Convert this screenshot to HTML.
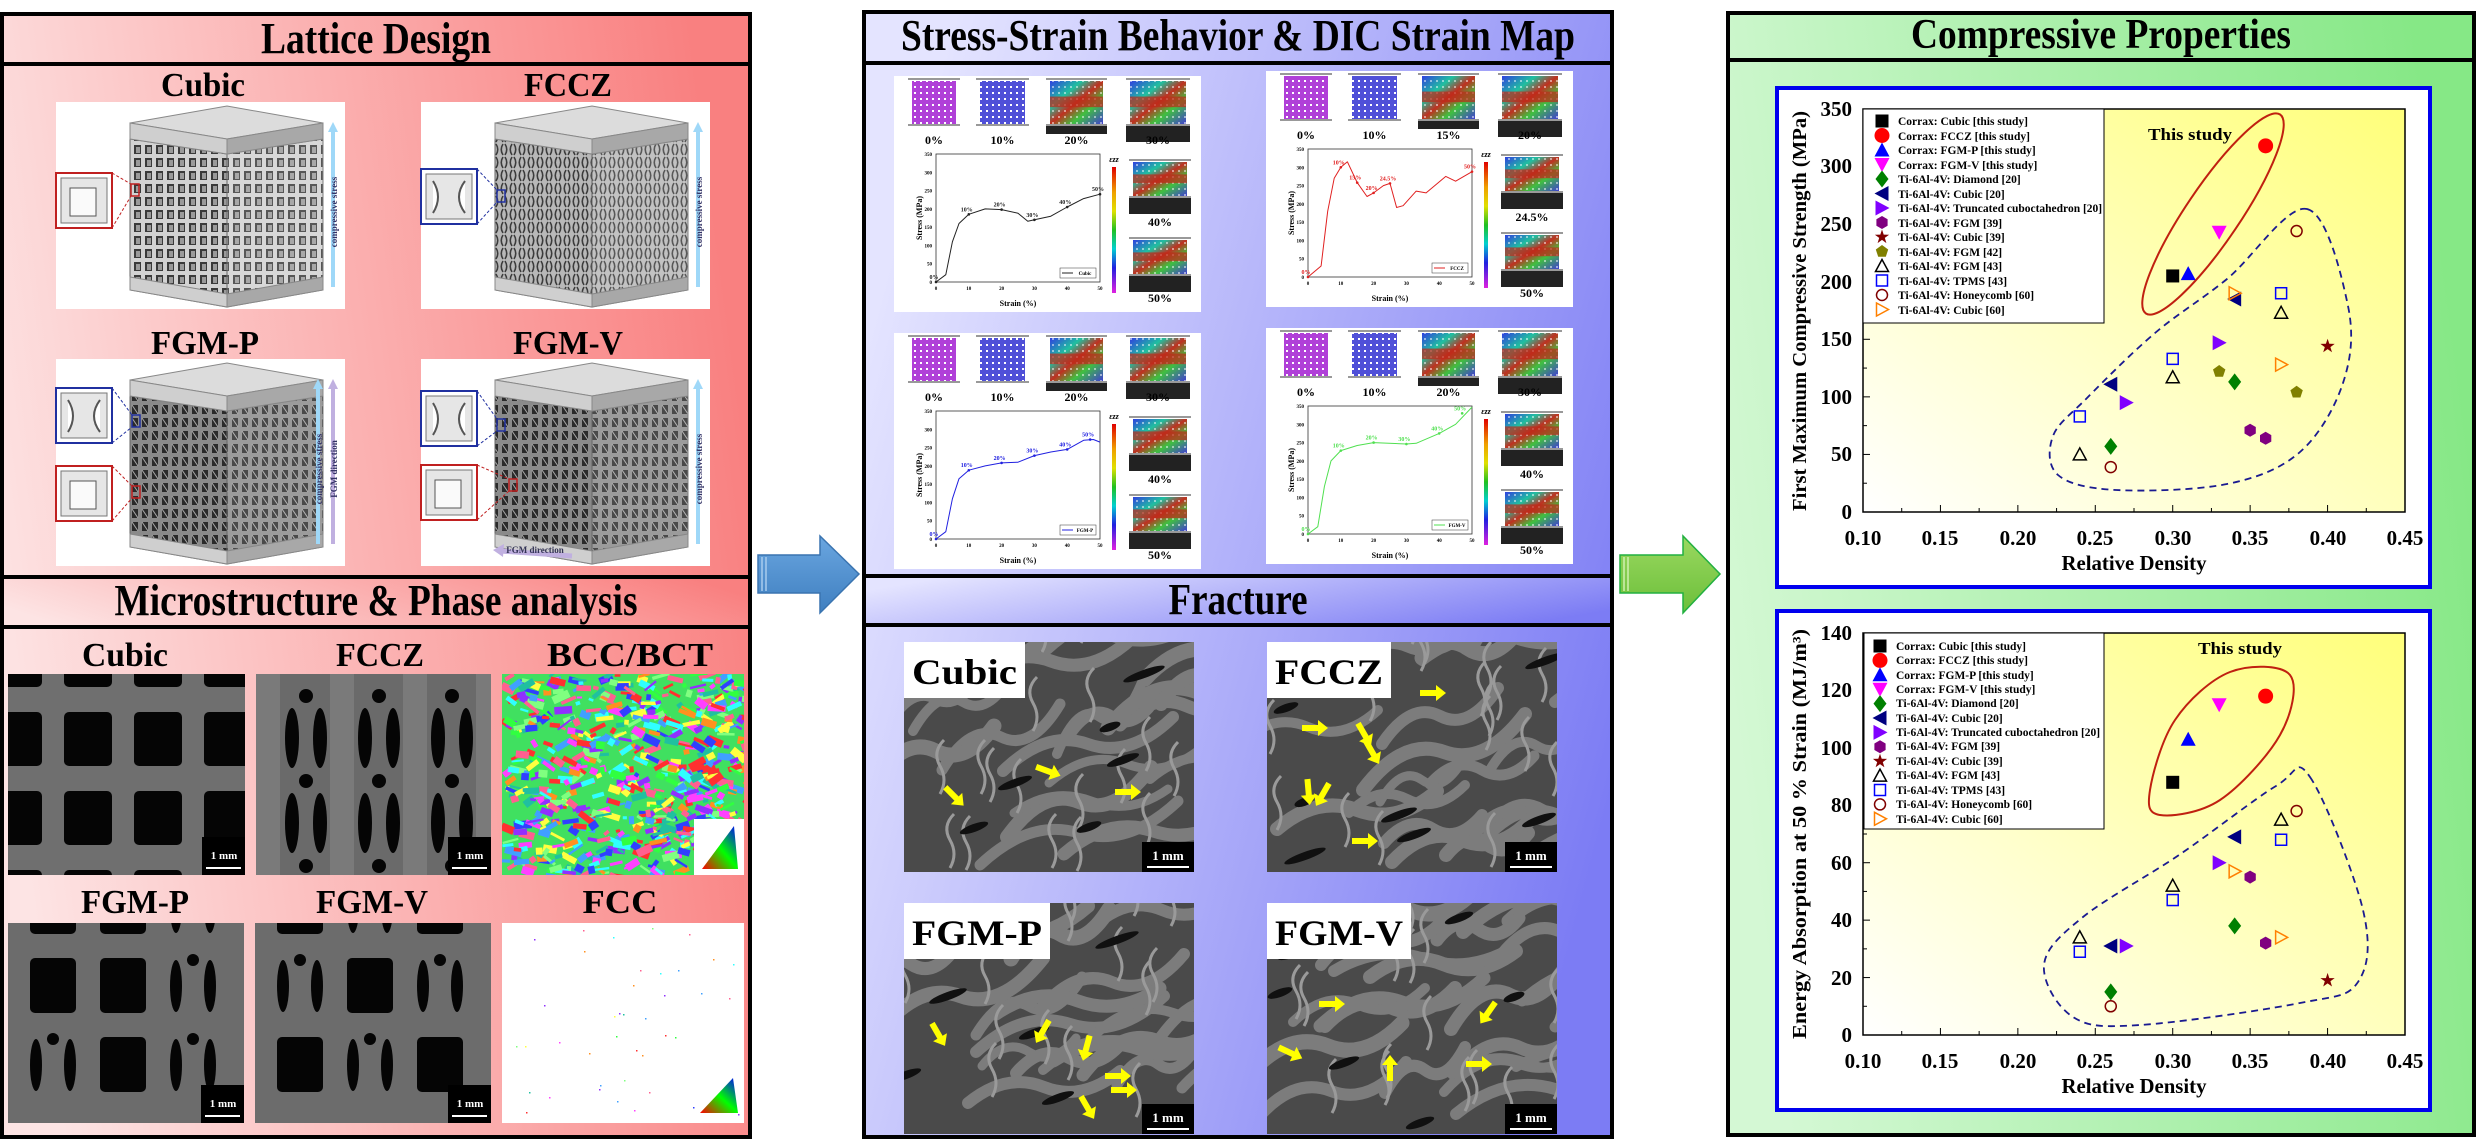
<!DOCTYPE html>
<html><head><meta charset="utf-8"><style>
html,body{margin:0;padding:0;background:#fff}
body{width:2478px;height:1140px;overflow:hidden}
svg{display:block}
svg text{font-family:"Liberation Serif",serif;font-weight:bold}
</style></head><body>
<svg id="s" width="2478" height="1140" xmlns="http://www.w3.org/2000/svg" font-family="'Liberation Serif', serif">
<defs>
<linearGradient id="gL" x1="0" y1="0.6" x2="1" y2="0.4"><stop offset="0" stop-color="#fde4e4"/><stop offset="1" stop-color="#f98080"/></linearGradient>
<linearGradient id="gM" x1="0" y1="0.3" x2="1" y2="0.7"><stop offset="0" stop-color="#e4e4ff"/><stop offset="1" stop-color="#7c7cf4"/></linearGradient>
<linearGradient id="gR" x1="0" y1="0.6" x2="1" y2="0.4"><stop offset="0" stop-color="#d4f8d4"/><stop offset="1" stop-color="#86e886"/></linearGradient>
<linearGradient id="gY" x1="0" y1="1" x2="1" y2="0"><stop offset="0" stop-color="#ffffff"/><stop offset="1" stop-color="#ffff7a"/></linearGradient>
<linearGradient id="gCB" x1="0" y1="0" x2="0" y2="1"><stop offset="0" stop-color="#e00000"/><stop offset="0.2" stop-color="#f0a000"/><stop offset="0.35" stop-color="#e0e000"/><stop offset="0.5" stop-color="#20c020"/><stop offset="0.65" stop-color="#00d0d0"/><stop offset="0.8" stop-color="#2020e0"/><stop offset="1" stop-color="#e020e0"/></linearGradient>
<linearGradient id="gDIC" x1="0" y1="0" x2="1" y2="1"><stop offset="0" stop-color="#3040e0"/><stop offset="0.3" stop-color="#20c0a0"/><stop offset="0.5" stop-color="#c03020"/><stop offset="0.7" stop-color="#40c040"/><stop offset="1" stop-color="#4040d0"/></linearGradient>
<linearGradient id="gBA" x1="0" y1="0" x2="0" y2="1"><stop offset="0" stop-color="#6aa6e0"/><stop offset="1" stop-color="#3f7fc0"/></linearGradient>
<linearGradient id="gGA" x1="0" y1="0" x2="0" y2="1"><stop offset="0" stop-color="#9ad860"/><stop offset="1" stop-color="#6cbf3a"/></linearGradient>
<linearGradient id="gTri" x1="0" y1="1" x2="1" y2="0"><stop offset="0" stop-color="#ff0000"/><stop offset="0.5" stop-color="#00ff00"/><stop offset="1" stop-color="#0000ff"/></linearGradient>
<pattern id="pC" width="11" height="13" patternUnits="userSpaceOnUse"><rect width="11" height="13" fill="#d2d2d2"/><rect x="2" y="2" width="7" height="9" fill="#3a3a3a"/><rect x="4" y="4" width="4" height="6" fill="#9a9a9a"/></pattern>
<pattern id="pF" width="9" height="13" patternUnits="userSpaceOnUse"><rect width="9" height="13" fill="#b8b8b8"/><path d="M1 1 Q4.5 6.5 1 12 M8 1 Q4.5 6.5 8 12" stroke="#3c3c3c" stroke-width="1.6" fill="none"/></pattern>
<pattern id="pG" width="10" height="13" patternUnits="userSpaceOnUse"><rect width="10" height="13" fill="#8a8a8a"/><rect x="2" y="2" width="6" height="9" fill="#2a2a2a"/><path d="M2 2 L8 11" stroke="#aaa" stroke-width="1"/></pattern>
<pattern id="pD" width="6" height="6" patternUnits="userSpaceOnUse"><rect width="6" height="6" fill="none"/><rect x="2" y="2" width="2" height="2" fill="#fff"/></pattern>
</defs>

<!-- LEFT PANEL -->
<rect x="2" y="14" width="748" height="1123" fill="url(#gL)" stroke="#000" stroke-width="4"/>
<line x1="2" y1="64" x2="750" y2="64" stroke="#000" stroke-width="4"/>
<rect x="2" y="577" width="748" height="50" fill="url(#gL)" stroke="#000" stroke-width="4"/>
<text x="376" y="53" font-size="44" text-anchor="middle" textLength="230" lengthAdjust="spacingAndGlyphs">Lattice Design</text>
<text x="203" y="96" font-size="34" text-anchor="middle" textLength="84" lengthAdjust="spacingAndGlyphs">Cubic</text>
<text x="568" y="96" font-size="34" text-anchor="middle" textLength="88" lengthAdjust="spacingAndGlyphs">FCCZ</text>
<text x="205" y="354" font-size="34" text-anchor="middle" textLength="108" lengthAdjust="spacingAndGlyphs">FGM-P</text>
<text x="568" y="354" font-size="34" text-anchor="middle" textLength="110" lengthAdjust="spacingAndGlyphs">FGM-V</text>
<g id="lat"></g>
<text x="376" y="615" font-size="44" text-anchor="middle" textLength="523" lengthAdjust="spacingAndGlyphs">Microstructure &amp; Phase analysis</text>
<text x="125" y="666" font-size="34" text-anchor="middle" textLength="86" lengthAdjust="spacingAndGlyphs">Cubic</text>
<text x="380" y="666" font-size="34" text-anchor="middle" textLength="88" lengthAdjust="spacingAndGlyphs">FCCZ</text>
<text x="630" y="666" font-size="34" text-anchor="middle" textLength="166" lengthAdjust="spacingAndGlyphs">BCC/BCT</text>
<text x="135" y="913" font-size="34" text-anchor="middle" textLength="108" lengthAdjust="spacingAndGlyphs">FGM-P</text>
<text x="372" y="913" font-size="34" text-anchor="middle" textLength="112" lengthAdjust="spacingAndGlyphs">FGM-V</text>
<text x="620" y="913" font-size="34" text-anchor="middle" textLength="75" lengthAdjust="spacingAndGlyphs">FCC</text>
<g id="mic"></g>

<!-- ARROWS -->
<path d="M758 555 H820 V536 L859 574 L820 613 V593 H758 Z" fill="url(#gBA)" stroke="#3a74b0" stroke-width="1.5"/>
<path d="M762 557 V591 M766 557 V591" stroke="#a8ccee" stroke-width="1.5"/>
<path d="M1620 555 H1683 V536 L1720 574 L1683 613 V593 H1620 Z" fill="url(#gGA)" stroke="#22b040" stroke-width="1.5"/>
<path d="M1624 557 V591 M1628 557 V591" stroke="#d0f0b0" stroke-width="1.5"/>

<!-- MIDDLE PANEL -->
<rect x="864" y="12" width="748" height="1125" fill="url(#gM)" stroke="#000" stroke-width="4"/>
<line x1="864" y1="63" x2="1612" y2="63" stroke="#000" stroke-width="4"/>
<rect x="864" y="576" width="748" height="49" fill="url(#gM)" stroke="#000" stroke-width="4"/>
<text x="1238" y="50" font-size="44" text-anchor="middle" textLength="674" lengthAdjust="spacingAndGlyphs">Stress-Strain Behavior &amp; DIC Strain Map</text>
<text x="1238" y="614" font-size="44" text-anchor="middle" textLength="139" lengthAdjust="spacingAndGlyphs">Fracture</text>
<g id="ss"></g>
<g id="fr"></g>

<!-- RIGHT PANEL -->
<rect x="1728" y="13" width="746" height="1122" fill="url(#gR)" stroke="#000" stroke-width="4"/>
<line x1="1728" y1="60" x2="2474" y2="60" stroke="#000" stroke-width="4"/>
<text x="2101" y="48" font-size="42" text-anchor="middle" textLength="380" lengthAdjust="spacingAndGlyphs">Compressive Properties</text>

<rect x="1777" y="88" width="653" height="499" fill="#fff" stroke="#0000ee" stroke-width="4"/>
<rect x="1863" y="109" width="542" height="403" fill="url(#gY)" stroke="#000" stroke-width="1.5"/>
<rect x="1777" y="611" width="653" height="499" fill="#fff" stroke="#0000ee" stroke-width="4"/>
<rect x="1863" y="633" width="542" height="402" fill="url(#gY)" stroke="#000" stroke-width="1.5"/>
<g id="ax"></g>
<g font-size="21">
<text x="1863" y="545" text-anchor="middle">0.10</text><text x="1940" y="545" text-anchor="middle">0.15</text><text x="2018" y="545" text-anchor="middle">0.20</text><text x="2095" y="545" text-anchor="middle">0.25</text><text x="2173" y="545" text-anchor="middle">0.30</text><text x="2250" y="545" text-anchor="middle">0.35</text><text x="2328" y="545" text-anchor="middle">0.40</text><text x="2405" y="545" text-anchor="middle">0.45</text>
<text x="1863" y="1068" text-anchor="middle">0.10</text><text x="1940" y="1068" text-anchor="middle">0.15</text><text x="2018" y="1068" text-anchor="middle">0.20</text><text x="2095" y="1068" text-anchor="middle">0.25</text><text x="2173" y="1068" text-anchor="middle">0.30</text><text x="2250" y="1068" text-anchor="middle">0.35</text><text x="2328" y="1068" text-anchor="middle">0.40</text><text x="2405" y="1068" text-anchor="middle">0.45</text>
<text x="1852" y="519" text-anchor="end">0</text><text x="1852" y="461" text-anchor="end">50</text><text x="1852" y="404" text-anchor="end">100</text><text x="1852" y="346" text-anchor="end">150</text><text x="1852" y="289" text-anchor="end">200</text><text x="1852" y="231" text-anchor="end">250</text><text x="1852" y="173" text-anchor="end">300</text><text x="1852" y="116" text-anchor="end">350</text>
<text x="1852" y="1042" text-anchor="end">0</text><text x="1852" y="985" text-anchor="end">20</text><text x="1852" y="927" text-anchor="end">40</text><text x="1852" y="870" text-anchor="end">60</text><text x="1852" y="812" text-anchor="end">80</text><text x="1852" y="755" text-anchor="end">100</text><text x="1852" y="697" text-anchor="end">120</text><text x="1852" y="640" text-anchor="end">140</text>
</g>
<text x="2134" y="570" font-size="21" text-anchor="middle" textLength="145" lengthAdjust="spacingAndGlyphs">Relative Density</text>
<text x="2134" y="1093" font-size="21" text-anchor="middle" textLength="145" lengthAdjust="spacingAndGlyphs">Relative Density</text>
<text transform="translate(1806,311) rotate(-90)" font-size="20" text-anchor="middle" textLength="400" lengthAdjust="spacingAndGlyphs">First Maximum Compressive Strength (MPa)</text>
<text transform="translate(1806,834) rotate(-90)" font-size="20" text-anchor="middle" textLength="410" lengthAdjust="spacingAndGlyphs">Energy Absorption at 50 % Strain (MJ/m³)</text>
<text x="2190" y="140" font-size="17" text-anchor="middle" textLength="84" lengthAdjust="spacingAndGlyphs">This study</text>
<text x="2240" y="654" font-size="17" text-anchor="middle" textLength="84" lengthAdjust="spacingAndGlyphs">This study</text>
<rect x="1863" y="109" width="241" height="214" fill="#fff" stroke="#000" stroke-width="1"/>
<rect x="1864" y="633" width="240" height="196" fill="#fff" stroke="#000" stroke-width="1"/>
<g id="leg1" font-size="11.5">
<text x="1898" y="125">Corrax: Cubic [this study]</text>
<text x="1898" y="140">Corrax: FCCZ [this study]</text>
<text x="1898" y="154">Corrax: FGM-P [this study]</text>
<text x="1898" y="169">Corrax: FGM-V [this study]</text>
<text x="1898" y="183">Ti-6Al-4V: Diamond [20]</text>
<text x="1898" y="198">Ti-6Al-4V: Cubic [20]</text>
<text x="1898" y="212">Ti-6Al-4V: Truncated cuboctahedron [20]</text>
<text x="1898" y="227">Ti-6Al-4V: FGM [39]</text>
<text x="1898" y="241">Ti-6Al-4V: Cubic [39]</text>
<text x="1898" y="256">Ti-6Al-4V: FGM [42]</text>
<text x="1898" y="270">Ti-6Al-4V: FGM [43]</text>
<text x="1898" y="285">Ti-6Al-4V: TPMS [43]</text>
<text x="1898" y="299">Ti-6Al-4V: Honeycomb [60]</text>
<text x="1898" y="314">Ti-6Al-4V: Cubic [60]</text>
</g>
<g id="leg2" font-size="11.5">
<text x="1896" y="650">Corrax: Cubic [this study]</text>
<text x="1896" y="664">Corrax: FCCZ [this study]</text>
<text x="1896" y="679">Corrax: FGM-P [this study]</text>
<text x="1896" y="693">Corrax: FGM-V [this study]</text>
<text x="1896" y="707">Ti-6Al-4V: Diamond [20]</text>
<text x="1896" y="722">Ti-6Al-4V: Cubic [20]</text>
<text x="1896" y="736">Ti-6Al-4V: Truncated cuboctahedron [20]</text>
<text x="1896" y="750">Ti-6Al-4V: FGM [39]</text>
<text x="1896" y="765">Ti-6Al-4V: Cubic [39]</text>
<text x="1896" y="779">Ti-6Al-4V: FGM [43]</text>
<text x="1896" y="794">Ti-6Al-4V: TPMS [43]</text>
<text x="1896" y="808">Ti-6Al-4V: Honeycomb [60]</text>
<text x="1896" y="823">Ti-6Al-4V: Cubic [60]</text>
</g>
<g id="mk"></g>
</svg>

<script>
(function(){
function add(id,html){document.getElementById(id).insertAdjacentHTML('beforeend',html);}
var seed=7;function R(){seed=(seed*16807)%2147483647;return (seed-1)/2147483646;}

function cube(bx,by,pat,inserts,arrows){
 var s='<rect x="'+bx+'" y="'+by+'" width="289" height="207" fill="#fff"/>';
 var P=function(a){return a.map(function(p){return (bx+p[0])+','+(by+p[1]);}).join(' ');};
 s+='<polygon points="'+P([[74,37],[171,52],[171,205],[74,188]])+'" fill="url(#'+pat+')" stroke="#666"/>';
 s+='<polygon points="'+P([[171,52],[267,37],[267,188],[171,205]])+'" fill="url(#'+pat+')" stroke="#666" opacity="0.85"/>';
 s+='<polygon points="'+P([[74,21],[171,4],[267,21],[171,37]])+'" fill="#dcdcdc" stroke="#888"/>';
 s+='<polygon points="'+P([[74,21],[171,37],[171,52],[74,37]])+'" fill="#cfcfcf" stroke="#888"/>';
 s+='<polygon points="'+P([[171,37],[267,21],[267,37],[171,52]])+'" fill="#a8a8a8" stroke="#888"/>';
 s+='<polygon points="'+P([[74,175],[171,192],[171,205],[74,188]])+'" fill="#cfcfcf" stroke="#888"/>';
 s+='<polygon points="'+P([[171,192],[267,175],[267,188],[171,205]])+'" fill="#a8a8a8" stroke="#888"/>';
 inserts.forEach(function(it){
  var x=bx+it[0],y=by+it[1],c=it[2];
  s+='<rect x="'+x+'" y="'+y+'" width="56" height="55" fill="#fff" stroke="'+c+'" stroke-width="2"/>';
  s+='<rect x="'+(x+5)+'" y="'+(y+5)+'" width="46" height="45" fill="#e6e6e6" stroke="#777"/>';
  if(c=='#c02020') s+='<rect x="'+(x+14)+'" y="'+(y+15)+'" width="26" height="28" fill="#fafafa" stroke="#555"/>';
  else s+='<path d="M'+(x+12)+' '+(y+12)+' Q'+(x+22)+' '+(y+28)+' '+(x+12)+' '+(y+44)+' M'+(x+44)+' '+(y+12)+' Q'+(x+32)+' '+(y+28)+' '+(x+44)+' '+(y+44)+'" stroke="#555" stroke-width="2" fill="#fff"/>';
  s+='<line x1="'+(x+56)+'" y1="'+y+'" x2="'+(bx+it[3])+'" y2="'+(by+it[4])+'" stroke="'+c+'" stroke-dasharray="3,2"/>';
  s+='<line x1="'+(x+56)+'" y1="'+(y+55)+'" x2="'+(bx+it[3])+'" y2="'+(by+it[4]+12)+'" stroke="'+c+'" stroke-dasharray="3,2"/>';
  s+='<rect x="'+(bx+it[3])+'" y="'+(by+it[4])+'" width="8" height="12" fill="none" stroke="'+c+'" stroke-width="1.5"/>';
 });
 arrows.forEach(function(a){
  s+='<line x1="'+(bx+a[0])+'" y1="'+(by+185)+'" x2="'+(bx+a[0])+'" y2="'+(by+28)+'" stroke="'+a[1]+'" stroke-width="4"/>';
  s+='<polygon points="'+(bx+a[0]-5)+','+(by+30)+' '+(bx+a[0]+5)+','+(by+30)+' '+(bx+a[0])+','+(by+20)+'" fill="'+a[1]+'"/>';
  s+='<text transform="translate('+(bx+a[0]+4)+','+(by+110)+') rotate(-90)" font-size="9" font-weight="normal" fill="#336" text-anchor="middle">'+a[2]+'</text>';
 });
 return s;
}
var L='';
L+=cube(56,102,'pC',[[0,71,'#c02020',75,82]],[[277,'#9fd8f8','compressive stress']]);
L+=cube(421,102,'pF',[[0,67,'#2030a0',76,88]],[[277,'#9fd8f8','compressive stress']]);
L+=cube(56,359,'pG',[[0,29,'#2030a0',76,56],[0,107,'#c02020',76,127]],[[262,'#9fd8f8','compressive stress'],[277,'#c0b0e0','FGM direction']]);
L+=cube(421,359,'pG',[[0,32,'#2030a0',76,60],[0,106,'#c02020',88,120]],[[277,'#9fd8f8','compressive stress']]);
L+='<line x1="500" y1="551" x2="572" y2="556" stroke="#c0b0e0" stroke-width="5"/><polygon points="493,550 504,544 503,557" fill="#c0b0e0"/><text x="535" y="553" font-size="9" font-weight="normal" text-anchor="middle" fill="#335">FGM direction</text>';
add('lat',L);

function sbar(x,y){return '<rect x="'+(x-43)+'" y="'+(y-38)+'" width="43" height="38" fill="#000"/><text x="'+(x-21)+'" y="'+(y-16)+'" font-size="11" font-weight="normal" fill="#fff" text-anchor="middle">1 mm</text><line x1="'+(x-39)+'" y1="'+(y-7)+'" x2="'+(x-4)+'" y2="'+(y-7)+'" stroke="#fff" stroke-width="2"/>';}
function clip(id,x,y,w,h){return '<clipPath id="'+id+'"><rect x="'+x+'" y="'+y+'" width="'+w+'" height="'+h+'"/></clipPath>';}
var M='';
M+=clip('c1',8,674,237,201)+'<g clip-path="url(#c1)"><rect x="8" y="674" width="237" height="201" fill="#6f6f6f"/>';
for(var i=0;i<4;i++)for(var j=-1;j<3;j++){M+='<rect x="'+(-6+i*70)+'" y="'+(712+j*79)+'" width="48" height="54" rx="5" fill="#050505"/>';}
M+='</g>'+sbar(245,875);
M+=clip('c2',256,674,235,201)+'<g clip-path="url(#c2)"><rect x="256" y="674" width="235" height="201" fill="#6a6a6a"/>';
for(var i=0;i<3;i++){var cx=306+i*73;for(var j=0;j<3;j++){var cy=738+j*85;
 M+='<ellipse cx="'+(cx-14)+'" cy="'+cy+'" rx="7" ry="30" fill="#050505"/><ellipse cx="'+(cx+14)+'" cy="'+cy+'" rx="7" ry="30" fill="#050505"/><circle cx="'+cx+'" cy="'+(cy-42)+'" r="7" fill="#050505"/>';}
 M+='<rect x="'+(cx+24)+'" y="674" width="24" height="201" fill="#7a7a7a"/>';}
M+='<rect x="256" y="674" width="24" height="201" fill="#7a7a7a"/></g>'+sbar(491,875);
M+=clip('c3',502,674,242,201)+'<g clip-path="url(#c3)"><rect x="502" y="674" width="242" height="201" fill="#40e060"/>';
var cols=['#ff3030','#30ff40','#3040ff','#ff40ff','#30ffff','#ffff40','#ff9020','#9030ff','#40a0ff','#80ff80','#ff6090','#20c0a0'];
for(var k=0;k<700;k++){var x=502+R()*242,y=674+R()*201,w=4+R()*14,h=2+R()*6;M+='<rect x="'+x.toFixed(1)+'" y="'+y.toFixed(1)+'" width="'+w.toFixed(1)+'" height="'+h.toFixed(1)+'" fill="'+cols[Math.floor(R()*cols.length)]+'" transform="rotate('+(-40+R()*80).toFixed(0)+' '+x.toFixed(0)+' '+y.toFixed(0)+')"/>';}
M+='</g><rect x="694" y="819" width="50" height="56" fill="#fff"/><polygon points="702,869 738,869 734,826" fill="url(#gTri)"/>';
function fgm(cid,x0,variant){var s=clip(cid,x0,923,236,200)+'<g clip-path="url(#'+cid+')"><rect x="'+x0+'" y="923" width="236" height="200" fill="#6c6c6c"/>';
 for(var i=0;i<3;i++)for(var j=-1;j<2;j++){var x=x0+22+i*70,y=958+j*79;
  var sq=variant?((i+j+3)%2==0):(i<2&&!(i==0&&j==1));
  if(sq) s+='<rect x="'+x+'" y="'+y+'" width="46" height="55" rx="5" fill="#050505"/>';
  else s+='<ellipse cx="'+(x+6)+'" cy="'+(y+28)+'" rx="6" ry="26" fill="#050505"/><ellipse cx="'+(x+40)+'" cy="'+(y+28)+'" rx="6" ry="26" fill="#050505"/><circle cx="'+(x+23)+'" cy="'+(y+2)+'" r="6" fill="#050505"/>';}
 s+='</g>'+sbar(x0+236,1123);return s;}
M+=fgm('c4',8,0)+fgm('c5',255,1);
M+='<rect x="502" y="923" width="242" height="200" fill="#fff"/>';
for(var k=0;k<40;k++){M+='<rect x="'+(505+R()*235).toFixed(0)+'" y="'+(926+R()*190).toFixed(0)+'" width="1.5" height="1.5" fill="'+cols[Math.floor(R()*cols.length)]+'"/>';}
M+='<polygon points="700,1113 738,1113 733,1078" fill="url(#gTri)"/>';
add('mic',M);

function dic(x,y,w,h,kind){var s='<rect x="'+(x-4)+'" y="'+y+'" width="'+(w+8)+'" height="2" fill="#999"/>';
 var fill=kind==0?'#b040d8':kind==1?'#5050d8':'url(#gDIC)';
 s+='<rect x="'+x+'" y="'+(y+3)+'" width="'+w+'" height="'+(h-10)+'" fill="'+fill+'"/>';
 if(kind<2)s+='<rect x="'+x+'" y="'+(y+3)+'" width="'+w+'" height="'+(h-10)+'" fill="url(#pD)"/>';
 else s+='<rect x="'+x+'" y="'+(y+3)+'" width="'+w+'" height="'+(h-10)+'" fill="url(#pD)" opacity="0.5"/><rect x="'+x+'" y="'+(y+h*0.35)+'" width="'+w+'" height="'+(h*0.2)+'" fill="#c02818" opacity="0.7"/>';
 s+='<rect x="'+(x-4)+'" y="'+(y+h-7)+'" width="'+(w+8)+'" height="2" fill="#999"/>';
 if(kind>=2)s+='<rect x="'+(x-4)+'" y="'+(y+h-5)+'" width="'+(w+8)+'" height="'+(kind==3?16:8)+'" fill="#222"/>';
 return s;}
function panel(x0,y0,col,tops,rights,pts,lab,name){
 var s='<rect x="'+x0+'" y="'+y0+'" width="307" height="236" fill="#fff"/>';
 var xs=[[14,52],[82,53],[152,61],[232,64]];
 for(var i=0;i<4;i++){s+=dic(x0+xs[i][0]+4,y0+2,xs[i][1]-8,53,i<2?i:(i==2?2:3));
  s+='<text x="'+(x0+xs[i][0]+xs[i][1]/2)+'" y="'+(y0+68)+'" font-size="12" text-anchor="middle">'+tops[i]+'</text>';}
 s+=dic(x0+239,y0+83,54,44,3)+dic(x0+239,y0+161,54,44,3);
 s+='<text x="'+(x0+266)+'" y="'+(y0+150)+'" font-size="12" text-anchor="middle">'+rights[0]+'</text><text x="'+(x0+266)+'" y="'+(y0+226)+'" font-size="12" text-anchor="middle">'+rights[1]+'</text>';
 var ax=x0+42,ay=y0+78,aw=164,ah=128;
 s+='<rect x="'+ax+'" y="'+ay+'" width="'+aw+'" height="'+ah+'" fill="none" stroke="#333" stroke-width="0.8"/>';
 for(var v=0;v<=350;v+=50){var yy=ay+ah-v/350*ah;s+='<text x="'+(ax-4)+'" y="'+(yy+2)+'" font-size="5" text-anchor="end">'+v+'</text>';}
 for(var v=0;v<=50;v+=10){var xx=ax+v/50*aw;s+='<text x="'+xx+'" y="'+(ay+ah+8)+'" font-size="5" text-anchor="middle">'+v+'</text>';}
 s+='<text x="'+(ax+82)+'" y="'+(y0+230)+'" font-size="8" text-anchor="middle">Strain (%)</text>';
 s+='<text transform="translate('+(ax-14)+','+(ay+64)+') rotate(-90)" font-size="8" text-anchor="middle">Stress (MPa)</text>';
 var d='';pts.forEach(function(p,i){d+=(i?'L':'M')+(ax+p[0]/50*aw).toFixed(1)+' '+(ay+ah-p[1]/350*ah).toFixed(1)+' ';});
 s+='<path d="'+d+'" fill="none" stroke="'+col+'" stroke-width="1" stroke-linejoin="round"/>';
 lab.forEach(function(l){var xx=ax+l[0]/50*aw,yy=ay+ah-l[1]/350*ah;s+='<circle cx="'+xx+'" cy="'+yy+'" r="1.3" fill="'+col+'"/><text x="'+(xx-2)+'" y="'+(yy-3)+'" font-size="6" fill="'+col+'" text-anchor="middle">'+l[2]+'</text>';});
 s+='<rect x="'+(ax+aw-40)+'" y="'+(ay+ah-14)+'" width="36" height="10" fill="#fff" stroke="#333" stroke-width="0.5"/><line x1="'+(ax+aw-38)+'" y1="'+(ay+ah-9)+'" x2="'+(ax+aw-27)+'" y2="'+(ay+ah-9)+'" stroke="'+col+'"/><text x="'+(ax+aw-15)+'" y="'+(ay+ah-7)+'" font-size="5" text-anchor="middle">'+name+'</text>';
 s+='<rect x="'+(x0+218)+'" y="'+(y0+91)+'" width="4" height="126" fill="url(#gCB)"/><text x="'+(x0+220)+'" y="'+(y0+86)+'" font-size="8" font-weight="normal" font-style="italic" text-anchor="middle">εzz</text>';
 return s;}
var S='';
S+=panel(894,76,'#222',['0%','10%','20%','30%'],['40%','50%'],[[0,0],[3,20],[5,110],[7,160],[10,185],[15,200],[20,198],[25,188],[28,166],[30,170],[35,180],[40,205],[45,228],[50,240]],[[0,0,'0%'],[10,185,'10%'],[20,198,'20%'],[30,170,'30%'],[40,205,'40%'],[50,240,'50%']],'Cubic');
S+=panel(1266,71,'#e02020',['0%','10%','15%','20%'],['24.5%','50%'],[[0,0],[4,30],[6,180],[8,270],[10,300],[12,315],[15,258],[18,220],[20,230],[23,250],[25,256],[27,190],[29,195],[33,235],[36,230],[42,275],[45,262],[50,288]],[[0,0,'0%'],[10,300,'10%'],[15,258,'15%'],[20,230,'20%'],[25,256,'24.5%'],[50,288,'50%']],'FCCZ');
S+=panel(894,333,'#2020e0',['0%','10%','20%','30%'],['40%','50%'],[[0,0],[3,20],[5,110],[7,165],[10,188],[15,200],[20,208],[25,210],[30,228],[35,238],[40,245],[45,270],[48,272],[50,265]],[[0,0,'0%'],[10,188,'10%'],[20,208,'20%'],[30,228,'30%'],[40,245,'40%'],[47,272,'50%']],'FGM-P');
S+=panel(1266,328,'#50e050',['0%','10%','20%','30%'],['40%','50%'],[[0,0],[3,20],[5,130],[7,200],[10,228],[15,242],[20,250],[30,246],[33,248],[40,275],[45,300],[50,347]],[[0,0,'0%'],[10,228,'10%'],[20,250,'20%'],[30,246,'30%'],[40,275,'40%'],[47,330,'50%']],'FGM-V');
add('ss',S);

function frac(cid,x,y,w,h,lab,lw,arrows){
 var s=clip(cid,x,y,w,h)+'<g clip-path="url(#'+cid+')"><rect x="'+x+'" y="'+y+'" width="'+w+'" height="'+h+'" fill="#4a4a4a"/>';
 for(var k=0;k<22;k++){var xx=x-40+R()*(w+40),yy=y+R()*h,dx=40+R()*60,dy=-10-R()*30;
  s+='<path d="M'+xx.toFixed(0)+' '+yy.toFixed(0)+' q'+(dx/2).toFixed(0)+' '+(dy-15).toFixed(0)+' '+dx.toFixed(0)+' '+dy.toFixed(0)+' t'+dx.toFixed(0)+' '+dy.toFixed(0)+'" stroke="#7c7c7c" stroke-width="'+(9+R()*6).toFixed(0)+'" fill="none" stroke-linecap="round"/>';}
 for(var k=0;k<18;k++){var xx=x+R()*w,yy=y+R()*h;
  s+='<path d="M'+xx.toFixed(0)+' '+yy.toFixed(0)+' q8 -14 0 -28 q-8 -14 4 -26" stroke="#9a9a9a" stroke-width="3" fill="none"/>';}
 for(var k=0;k<7;k++){var xx=x+R()*w,yy=y+R()*h;s+='<ellipse cx="'+xx.toFixed(0)+'" cy="'+yy.toFixed(0)+'" rx="'+(10+R()*14).toFixed(0)+'" ry="4" fill="#101010" transform="rotate(-20 '+xx.toFixed(0)+' '+yy.toFixed(0)+')"/>';}
 s+='</g><rect x="'+x+'" y="'+y+'" width="'+lw+'" height="56" fill="#fff"/><text x="'+(x+8)+'" y="'+(y+42)+'" font-size="36" textLength="'+(lw-16)+'" lengthAdjust="spacingAndGlyphs">'+lab+'</text>';
 arrows.forEach(function(a){s+='<g transform="translate('+a[0]+','+a[1]+') rotate('+a[2]+')"><rect x="0" y="-3" width="18" height="6" fill="#ffff00"/><polygon points="-8,0 2,-8 2,8" fill="#ffff00"/></g>';});
 s+='<rect x="'+(x+w-52)+'" y="'+(y+h-30)+'" width="52" height="30" fill="#000"/><text x="'+(x+w-26)+'" y="'+(y+h-12)+'" font-size="13" font-weight="normal" fill="#fff" text-anchor="middle">1 mm</text><line x1="'+(x+w-47)+'" y1="'+(y+h-5)+'" x2="'+(x+w-5)+'" y2="'+(y+h-5)+'" stroke="#fff" stroke-width="2"/>';
 return s;}
var F='';
F+=frac('f1',904,642,290,230,'Cubic',121,[[958,800,-135],[1053,773,-160],[1133,792,180]]);
F+=frac('f2',1267,642,290,230,'FCCZ',124,[[1438,693,180],[1367,739,-120],[1375,757,-120],[1320,728,180],[1320,799,-60],[1309,797,-95],[1370,841,180]]);
F+=frac('f3',904,903,290,231,'FGM-P',146,[[941,1039,-120],[1040,1036,-60],[1085,1053,-75],[1123,1076,180],[1129,1090,180],[1090,1112,-120]]);
F+=frac('f4',1267,903,290,231,'FGM-V',144,[[1337,1004,180],[1295,1055,-155],[1390,1063,90],[1485,1017,-55],[1484,1064,180]]);
add('fr',F);

function px(x){return 1863+(x-0.1)/0.35*542;}
function py1(y){return 512-y/350*403;}
function py2(y){return 1035-y/140*402;}
var A='';
[[109,512,350,50],[633,1035,140,20]].forEach(function(g){
 for(var v=0;v<=0.35001;v+=0.025){var xx=px(0.1+v);A+='<line x1="'+xx+'" y1="'+g[1]+'" x2="'+xx+'" y2="'+(g[1]-(Math.round(v*40)%2?4:7))+'" stroke="#000"/>';}
 for(var v=0;v<=g[2];v+=g[3]/2){var yy=g[1]-v/g[2]*(g[1]-g[0]);A+='<line x1="1863" y1="'+yy+'" x2="'+(1863+((v/(g[3]/2))%2?4:7))+'" y2="'+yy+'" stroke="#000"/>';}
});
add('ax',A);
function mk(t,x,y,c){var r=6.5,s='';
 switch(t){
 case 'sq':s='<rect x="'+(x-r)+'" y="'+(y-r)+'" width="'+(2*r)+'" height="'+(2*r)+'" fill="'+c+'"/>';break;
 case 'ci':s='<circle cx="'+x+'" cy="'+y+'" r="'+(r+1)+'" fill="'+c+'"/>';break;
 case 'tu':s='<polygon points="'+x+','+(y-r-1)+' '+(x+r+1)+','+(y+r)+' '+(x-r-1)+','+(y+r)+'" fill="'+c+'"/>';break;
 case 'td':s='<polygon points="'+x+','+(y+r+1)+' '+(x+r+1)+','+(y-r)+' '+(x-r-1)+','+(y-r)+'" fill="'+c+'"/>';break;
 case 'di':s='<polygon points="'+x+','+(y-r-2)+' '+(x+r)+','+y+' '+x+','+(y+r+2)+' '+(x-r)+','+y+'" fill="'+c+'"/>';break;
 case 'tl':s='<polygon points="'+(x-r-1)+','+y+' '+(x+r)+','+(y-r-1)+' '+(x+r)+','+(y+r+1)+'" fill="'+c+'"/>';break;
 case 'tr':s='<polygon points="'+(x+r+1)+','+y+' '+(x-r)+','+(y-r-1)+' '+(x-r)+','+(y+r+1)+'" fill="'+c+'"/>';break;
 case 'hx':s='<polygon points="'+[0,1,2,3,4,5].map(function(i){var a=Math.PI/3*i+Math.PI/6;return (x+r*Math.cos(a)).toFixed(1)+','+(y+r*Math.sin(a)).toFixed(1);}).join(' ')+'" fill="'+c+'"/>';break;
 case 'st':var p=[];for(var i=0;i<10;i++){var a=-Math.PI/2+i*Math.PI/5,rr=i%2?r*0.45:r+1;p.push((x+rr*Math.cos(a)).toFixed(1)+','+(y+rr*Math.sin(a)).toFixed(1));}s='<polygon points="'+p.join(' ')+'" fill="'+c+'"/>';break;
 case 'pe':var p=[];for(var i=0;i<5;i++){var a=-Math.PI/2+i*2*Math.PI/5;p.push((x+r*Math.cos(a)).toFixed(1)+','+(y+r*Math.sin(a)).toFixed(1));}s='<polygon points="'+p.join(' ')+'" fill="'+c+'"/>';break;
 case 'otu':s='<polygon points="'+x+','+(y-r)+' '+(x+r)+','+(y+r-1)+' '+(x-r)+','+(y+r-1)+'" fill="none" stroke="'+c+'" stroke-width="1.5"/>';break;
 case 'osq':s='<rect x="'+(x-r+1)+'" y="'+(y-r+1)+'" width="'+(2*r-2)+'" height="'+(2*r-2)+'" fill="none" stroke="'+c+'" stroke-width="1.5"/>';break;
 case 'oci':s='<circle cx="'+x+'" cy="'+y+'" r="'+(r-1)+'" fill="none" stroke="'+c+'" stroke-width="1.5"/>';break;
 case 'otr':s='<polygon points="'+(x+r)+','+y+' '+(x-r+1)+','+(y-r)+' '+(x-r+1)+','+(y+r)+'" fill="none" stroke="'+c+'" stroke-width="1.5"/>';break;
 }return s;}
var types=[['sq','#000'],['ci','#ff0000'],['tu','#0000ff'],['td','#ff00ff'],['di','#008000'],['tl','#000080'],['tr','#8000ff'],['hx','#800080'],['st','#800000'],['pe','#808000'],['otu','#000'],['osq','#0000ff'],['oci','#800000'],['otr','#ff8000']];
var K='';
var d1=[[[0.30,205]],[[0.36,318]],[[0.31,207]],[[0.33,243]],[[0.26,57],[0.34,113]],[[0.26,111],[0.34,185]],[[0.27,95],[0.33,147]],[[0.35,71],[0.36,64]],[[0.40,144]],[[0.33,122],[0.38,104]],[[0.24,50],[0.30,117],[0.37,173]],[[0.24,83],[0.30,133],[0.37,190]],[[0.26,39],[0.38,244]],[[0.34,190],[0.37,128]]];
var d2=[[[0.30,88]],[[0.36,118]],[[0.31,103]],[[0.33,115]],[[0.26,15],[0.34,38]],[[0.26,31],[0.34,69]],[[0.27,31],[0.33,60]],[[0.35,55],[0.36,32]],[[0.40,19]],[],[[0.24,34],[0.30,52],[0.37,75]],[[0.24,29],[0.30,47],[0.37,68]],[[0.26,10],[0.38,78]],[[0.34,57],[0.37,34]]];
types.forEach(function(t,i){
 d1[i].forEach(function(p){K+=mk(t[0],px(p[0]),py1(p[1]),t[1]);});
 d2[i].forEach(function(p){K+=mk(t[0],px(p[0]),py2(p[1]),t[1]);});
 K+=mk(t[0],1882,121+i*14.5,t[1]);
});
var j=0;types.forEach(function(t,i){if(i==9)return;K+=mk(t[0],1880,646+j*14.4,t[1]);j++;});
function cr(pts){var n=pts.length,d='M'+pts[0].join(' ');
 for(var i=0;i<n;i++){var p0=pts[(i-1+n)%n],p1=pts[i],p2=pts[(i+1)%n],p3=pts[(i+2)%n];
  d+=' C'+(p1[0]+(p2[0]-p0[0])/6).toFixed(1)+' '+(p1[1]+(p2[1]-p0[1])/6).toFixed(1)+' '+(p2[0]-(p3[0]-p1[0])/6).toFixed(1)+' '+(p2[1]-(p3[1]-p1[1])/6).toFixed(1)+' '+p2[0]+' '+p2[1];}
 return d+'Z';}
K+='<path d="'+cr([[2307,209],[2348,306],[2343,383],[2300,452],[2227,484],[2116,490],[2058,475],[2053,436],[2087,398],[2155,333],[2227,279]])+'" fill="none" stroke="#1a1a90" stroke-width="1.8" stroke-dasharray="7,5"/>';
K+='<path d="'+cr([[2310,777],[2363,910],[2358,982],[2300,1003],[2140,1025],[2073,1017],[2044,965],[2083,917],[2179,855],[2276,786]])+'" fill="none" stroke="#1a1a90" stroke-width="1.8" stroke-dasharray="7,5"/>';
K+='<ellipse cx="2213" cy="214" rx="120" ry="27" transform="rotate(-56 2213 214)" fill="none" stroke="#c02010" stroke-width="2"/>';
K+='<path d="'+cr([[2290,675],[2280,735],[2220,800],[2160,815],[2150,790],[2175,720],[2230,672]])+'" fill="none" stroke="#c02010" stroke-width="2"/>';
add('mk',K);
})();
</script>
</body></html>
